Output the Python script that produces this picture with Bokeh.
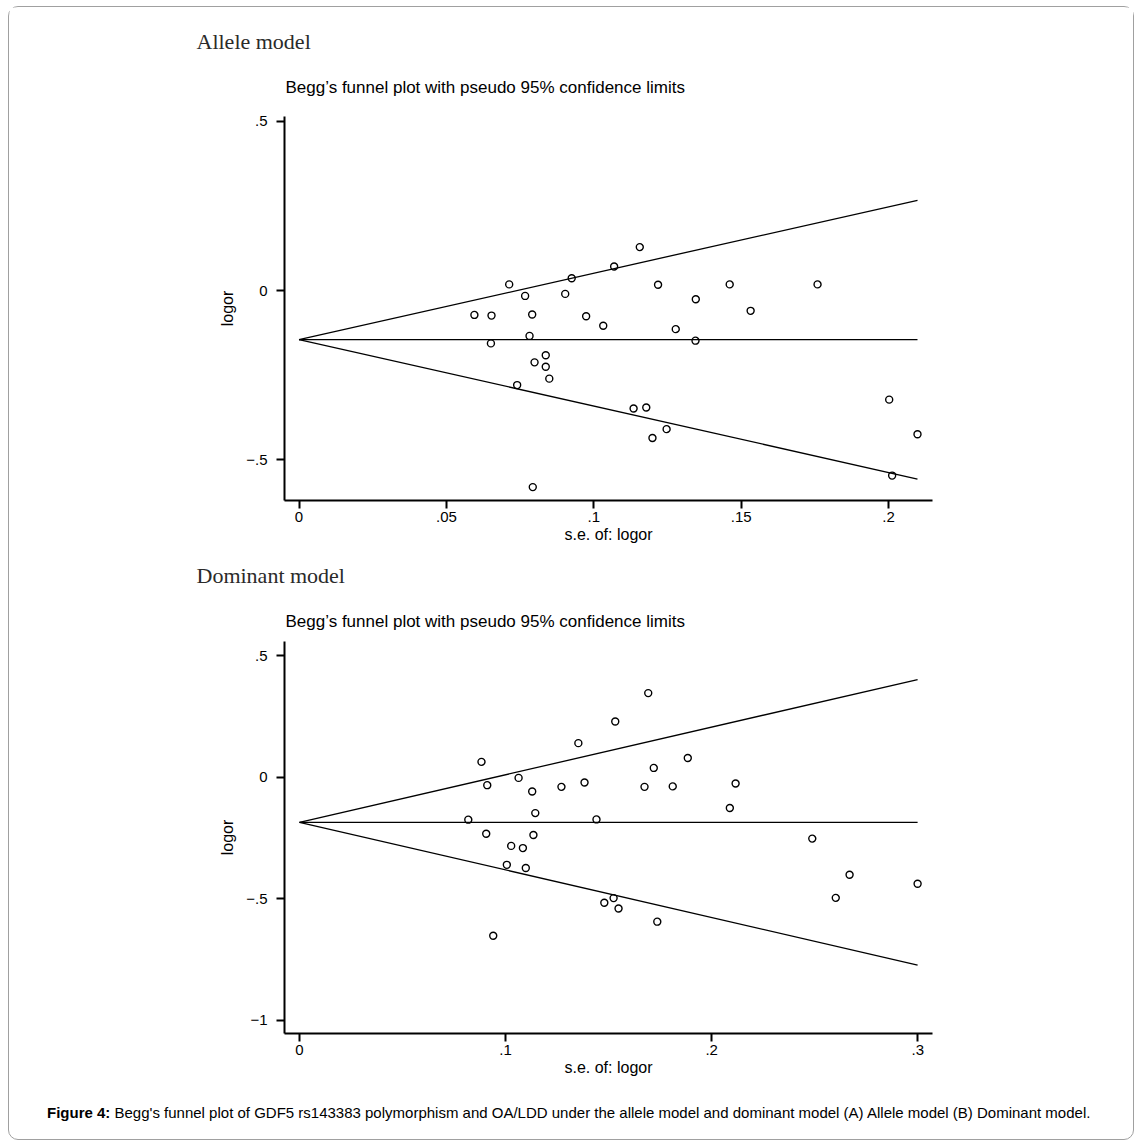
from bokeh.plotting import figure
from bokeh.models import Range1d, FixedTicker, Title, Div
from bokeh.layouts import column
from bokeh.embed import file_html
from bokeh.resources import INLINE

# ---------------- data ----------------
# Panel A: Allele model
allele_se = [0.0713, 0.0767, 0.0925, 0.0903, 0.0595, 0.0653, 0.0791, 0.0782, 0.0651,
             0.0837, 0.0799, 0.0837, 0.0849, 0.0740, 0.0793, 0.1069, 0.1156, 0.1218,
             0.1461, 0.1759, 0.1346, 0.1532, 0.0974, 0.1032, 0.1278, 0.1345, 0.1135,
             0.1178, 0.1247, 0.1199, 0.2002, 0.2098, 0.2012]
allele_logor = [0.018, -0.016, 0.036, -0.010, -0.072, -0.074, -0.071, -0.134, -0.156,
                -0.191, -0.212, -0.225, -0.260, -0.279, -0.580, 0.071, 0.128, 0.017,
                0.018, 0.018, -0.026, -0.060, -0.076, -0.104, -0.114, -0.148, -0.348,
                -0.345, -0.409, -0.435, -0.322, -0.424, -0.546]
allele_pooled = -0.145

# Panel B: Dominant model
dominant_se = [0.0883, 0.1063, 0.0911, 0.1129, 0.1271, 0.1144, 0.0819, 0.0906, 0.1135,
               0.1027, 0.1084, 0.1006, 0.1098, 0.0940, 0.1353, 0.1692, 0.1532, 0.1884,
               0.1719, 0.1383, 0.1674, 0.1811, 0.2116, 0.2088, 0.1441, 0.2488, 0.2669,
               0.2999, 0.2602, 0.1479, 0.1524, 0.1548, 0.1736]
dominant_logor = [0.063, -0.003, -0.033, -0.059, -0.040, -0.148, -0.175, -0.233, -0.238,
                  -0.283, -0.292, -0.361, -0.374, -0.653, 0.140, 0.346, 0.229, 0.079,
                  0.038, -0.022, -0.040, -0.038, -0.026, -0.127, -0.174, -0.253, -0.402,
                  -0.439, -0.497, -0.517, -0.498, -0.541, -0.595]
dominant_pooled = -0.186

Z = 1.96

allele_xticks = [0, 0.05, 0.1, 0.15, 0.2]
allele_xlabels = ["0", ".05", ".1", ".15", ".2"]
allele_yticks = [-0.5, 0, 0.5]
allele_ylabels = ["\u2212.5", "0", ".5"]

dominant_xticks = [0, 0.1, 0.2, 0.3]
dominant_xlabels = ["0", ".1", ".2", ".3"]
dominant_yticks = [-1, -0.5, 0, 0.5]
dominant_ylabels = ["\u22121", "\u2212.5", "0", ".5"]

panel_titles = ["Allele model", "Dominant model"]
stata_title = "Begg\u2019s funnel plot with pseudo 95% confidence limits"
x_title = "s.e. of: logor"
y_title = "logor"
caption_bold = "Figure 4:"
caption_rest = ("Begg's funnel plot of GDF5 rs143383 polymorphism and OA/LDD under the allele "
                "model and dominant model (A) Allele model (B) Dominant model.")

SANS = "Liberation Sans"
SERIF = "Liberation Serif"
W = 1124
ML, MR = 275, 201


def panel(se, lo, pooled, xr, yr, xticks, xlabels, yticks, ylabels, height, mtop, mbot,
          ptitle, st_standoff, pt_standoff):
    p = figure(width=W, height=height, min_border_left=ML, min_border_right=MR,
               min_border_top=mtop, min_border_bottom=mbot,
               x_range=Range1d(*xr), y_range=Range1d(*yr),
               output_backend="svg", toolbar_location=None, title=None)
    p.xgrid.visible = False
    p.ygrid.visible = False
    p.outline_line_color = None
    p.background_fill_color = "white"
    p.border_fill_color = "white"

    for ax, ticks, labels in ((p.xaxis[0], xticks, xlabels), (p.yaxis[0], yticks, ylabels)):
        ax.ticker = FixedTicker(ticks=ticks)
        ax.major_label_overrides = {t: l for t, l in zip(ticks, labels)}
        ax.axis_line_width = 2
        ax.axis_line_color = "black"
        ax.major_tick_line_width = 2
        ax.major_tick_line_color = "black"
        ax.major_tick_out = 8
        ax.major_tick_in = 0
        ax.minor_tick_out = 0
        ax.minor_tick_in = 0
        ax.major_label_text_font = SANS
        ax.major_label_text_font_size = "15px"
        ax.major_label_text_color = "black"
        ax.axis_label_text_font = SANS
        ax.axis_label_text_font_size = "16px"
        ax.axis_label_text_font_style = "normal"
        ax.axis_label_text_color = "black"
    p.xaxis.axis_label = x_title
    p.yaxis.axis_label = y_title
    p.xaxis.major_label_standoff = 3
    p.xaxis.axis_label_standoff = 1
    p.yaxis.major_label_standoff = 9
    p.yaxis.axis_label_standoff = 7
    p.yaxis.major_label_orientation = "horizontal"

    smax = max(se)
    p.line([0, smax], [pooled, pooled], line_color="black", line_width=1.3)
    p.line([0, smax], [pooled, pooled + Z * smax], line_color="black", line_width=1.3)
    p.line([0, smax], [pooled, pooled - Z * smax], line_color="black", line_width=1.3)
    p.scatter(se, lo, marker="circle", size=7, fill_color=None,
              line_color="black", line_width=1.4)

    p.add_layout(Title(text=stata_title, align="left", offset=1, standoff=st_standoff,
                       text_font=SANS, text_font_size="17px", text_font_style="normal",
                       text_color="black"), "above")
    p.add_layout(Title(text=ptitle, align="left", offset=-88, standoff=pt_standoff,
                       text_font=SERIF, text_font_size="22px", text_font_style="normal",
                       text_color="#2a2a2a"), "above")
    return p


pA = panel(allele_se, allele_logor, allele_pooled,
           (-0.00492, 0.21489), (-0.6195, 0.5133),
           allele_xticks, allele_xlabels, allele_yticks, allele_ylabels,
           541, 109, 48, panel_titles[0], 40, 4)
pB = panel(dominant_se, dominant_logor, dominant_pooled,
           (-0.00728, 0.30713), (-1.0554, 0.5585),
           dominant_xticks, dominant_xlabels, dominant_yticks, dominant_ylabels,
           538, 92, 53, panel_titles[1], 21, 24)

caption = Div(
    text=('<div style="font-family: \'Liberation Sans\', Arial, sans-serif; font-size: 15px; '
          'color: black; padding: 16px 0 0 38px; white-space: nowrap;">'
          '<b>' + caption_bold + '</b> ' + caption_rest + '</div>'),
    width=W, height=53, margin=0)

layout = column(pA, pB, caption, spacing=0, margin=(6, 0, 0, 8),
                styles={"border": "1px solid #a0a0a0", "border-radius": "10px",
                        "background-color": "white"})

open("out.html", "w").write(file_html(layout, INLINE))
